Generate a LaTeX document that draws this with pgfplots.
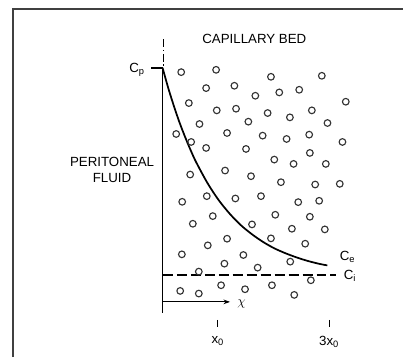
\documentclass[border=0pt]{standalone}
\usepackage{pgfplots}
\pgfplotsset{compat=1.18}
\usepackage{fontspec}
\setmainfont{Liberation Sans}
\usetikzlibrary{arrows.meta}
\begin{document}
\begin{tikzpicture}
\begin{axis}[
  scale only axis, width=303pt, height=268.5pt,
  xmin=0, xmax=1212, ymin=0, ymax=1074, y dir=reverse,
  hide axis, clip=false,
  every node/.style={font=\fontsize{8.8}{10.5}\selectfont, text=black!80},
]
% frame
\addplot[draw=black!75, line width=1.6pt] coordinates {(38,1074) (38,26) (1212,26)};
% vertical axis
\addplot[black, line width=0.7pt] coordinates {(490,205) (490,940)};
\addplot[black, line width=0.6pt, dash pattern=on 6pt off 2pt on 1pt off 2pt] coordinates {(490,118) (490,205)};
% Cp tick
\addplot[black, line width=1.1pt] coordinates {(455,205) (490,205)};
% concentration curve
\addplot[black, line width=1.3pt, smooth] coordinates {
(489,204) (505.8,263.9) (522.6,317.5) (539.4,366.9) (556.2,410.6) (573,450.8)
(589.8,487.4) (623.4,549.5) (657,600.9) (690.6,642.5) (724.2,677.1) (757.8,704.6)
(791.4,727.8) (825,746.9) (858.6,761.7) (892.2,774.3) (925.8,784.9) (959.4,793.4) (984.6,798.3)};
% dashed level
\addplot[black, line width=1.2pt, dash pattern=on 7.5pt off 3pt] coordinates {(490,827) (1010,827)};
% x arrow
\addplot[black, line width=0.7pt, -{Stealth[length=5pt,width=3.5pt]}] coordinates {(490,908) (692,908)};
% ticks
\addplot[black, line width=0.7pt] coordinates {(655,962) (655,985)};
\addplot[black, line width=0.7pt] coordinates {(990,962) (990,985)};
% capillaries
\addplot[only marks, mark=o, mark size=2.5pt, mark options={line width=0.85pt, draw=black!80}] coordinates {
(545,217) (650,210) (815,231) (968,228)
(620,265) (705,258) (768,288) (840,278) (900,270)
(568,310) (652,332) (710,327) (805,340) (872,353) (938,332) (1040,306) (985,370)
(600,373) (747,366)
(530,403) (575,427) (620,445) (683,400) (740,448) (790,408) (862,418) (930,405) (1030,427)
(932,460) (825,480) (883,493) (980,493)
(572,525) (677,513) (755,530) (845,548) (948,555) (1022,553)
(548,607) (622,590) (708,597) (785,590) (897,608) (960,604)
(580,673) (640,650) (758,675) (828,646) (878,688) (932,652) (977,690)
(625,738) (683,718) (815,717) (918,733)
(547,765) (732,767) (873,787)
(598,817) (675,793) (775,805)
(935,843)
(542,875) (598,883) (665,858) (737,870) (818,858) (885,887)
};
% labels
\node at (axis cs:765,118) {CAPILLARY BED};
\node[align=center] at (axis cs:337,511) {PERITONEAL\\FLUID};
\node at (axis cs:412,210) {C\textsubscript{p}};
\node[anchor=west] at (axis cs:1008,772) {C\textsubscript{e}};
\node[anchor=west] at (axis cs:1020,830) {C\textsubscript{i}};
\node[anchor=west] at (axis cs:700,914) {$\chi$};
\node at (axis cs:655,1027) {x\textsubscript{0}};
\node at (axis cs:990,1027) {3x\textsubscript{0}};
\path (rel axis cs:0,0) rectangle (rel axis cs:1,1);
\end{axis}
\end{tikzpicture}
\end{document}
